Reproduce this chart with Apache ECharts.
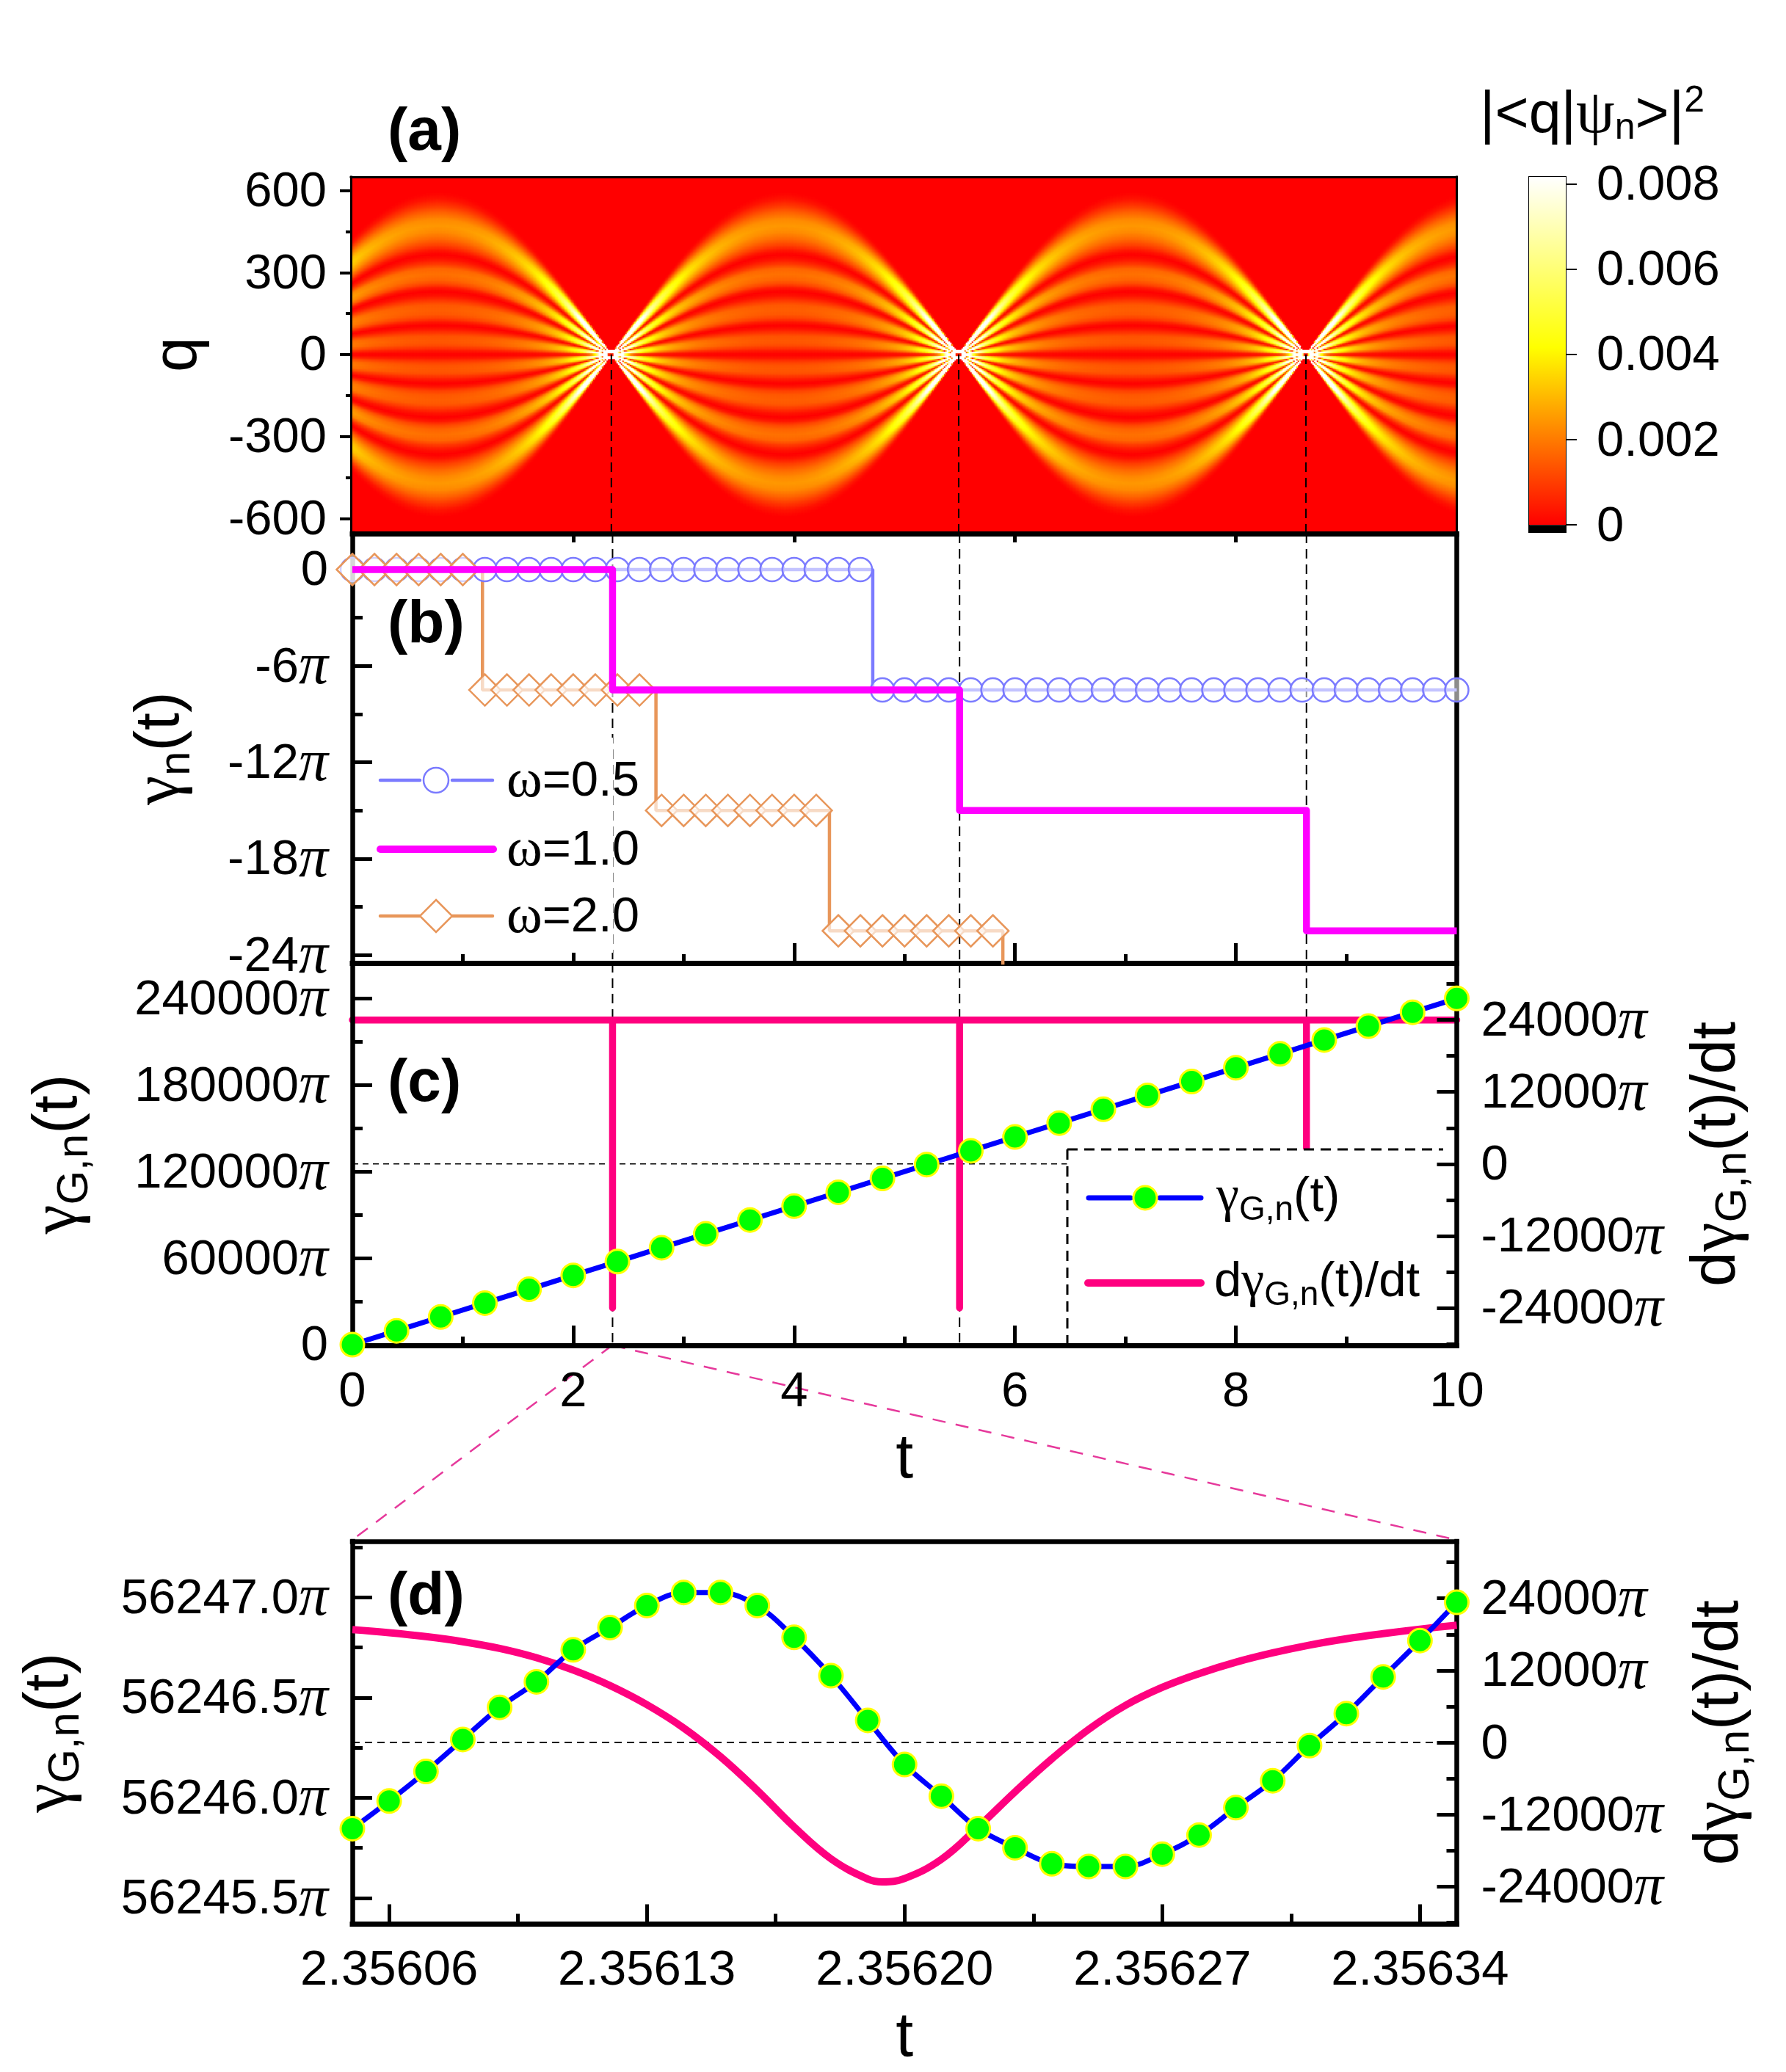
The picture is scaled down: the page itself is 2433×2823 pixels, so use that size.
<!DOCTYPE html>
<html><head><meta charset="utf-8">
<style>html,body{margin:0;padding:0;background:#fff}#c{width:2433px;height:2823px}</style>
<script src="https://cdn.jsdelivr.net/npm/echarts@6/dist/echarts.min.js"></script>
</head><body><div id="c"></div>
<script>
// ---------- values ----------
// panel (a): antinode slice of the density and the breathing of the ridges
const ridgeNodes=[-0.785,2.356,5.498,8.639,11.781];
const widthDist=[0,.1,.2,.3,.4,.5,.6,.7,.8,.9,1,1.1,1.2,1.3,1.4,1.5,1.5708];
const widthScale=[0,.1,.2,.296,.39,.48,.565,.645,.717,.783,.841,.891,.932,.964,.985,.997,1];
const sliceQ=[0,12,25,38,52,68,82,95,107,120,132,148,165,182,198,215,231,245,258,275,295,315,332,350,366,380,400,425,450,472,495,520,545,570,590,605];
const sliceD=[0,.0003,.0009,.0013,.0014,.0013,.0008,.0003,0,.0004,.001,.0014,.0015,.0014,.0009,.0003,0,.0004,.0011,.0016,.0018,.0016,.0009,.0003,0,.0003,.001,.0017,.0022,.0024,.0022,.0016,.0009,.0003,.00005,0];
const qTicks=[600,300,0,-300,-600], qMinor=[450,150,-150,-450];
const qLabels=['600','300','0','-300','-600'];
const barTicks=[0,.002,.004,.006,.008], barLabels=['0','0.002','0.004','0.006','0.008'];
// panel (b)
const bTicks=[0,-6,-12,-18,-24], bMinor=[-3,-9,-15,-21];
const bLabels=['0','-6π','-12π','-18π','-24π'];
const w05T=[0,4.712,4.712,10], w05V=[0,0,-7.5,-7.5];
const w05MarkT=[0,.2,.4,.6,.8,1,1.2,1.4,1.6,1.8,2,2.2,2.4,2.6,2.8,3,3.2,3.4,3.6,3.8,4,4.2,4.4,4.6,4.8,5,5.2,5.4,5.6,5.8,6,6.2,6.4,6.6,6.8,7,7.2,7.4,7.6,7.8,8,8.2,8.4,8.6,8.8,9,9.2,9.4,9.6,9.8,10];
const w05MarkV=[0,0,0,0,0,0,0,0,0,0,0,0,0,0,0,0,0,0,0,0,0,0,0,0,-7.5,-7.5,-7.5,-7.5,-7.5,-7.5,-7.5,-7.5,-7.5,-7.5,-7.5,-7.5,-7.5,-7.5,-7.5,-7.5,-7.5,-7.5,-7.5,-7.5,-7.5,-7.5,-7.5,-7.5,-7.5,-7.5,-7.5];
const w10T=[0,2.356,2.356,5.498,5.498,8.639,8.639,10], w10V=[0,0,-7.5,-7.5,-15,-15,-22.5,-22.5];
const w20T=[0,1.178,1.178,2.749,2.749,4.32,4.32,5.89,5.89], w20V=[0,0,-7.5,-7.5,-15,-15,-22.5,-22.5,-30];
const w20MarkT=[0,.2,.4,.6,.8,1,1.2,1.4,1.6,1.8,2,2.2,2.4,2.6,2.8,3,3.2,3.4,3.6,3.8,4,4.2,4.4,4.6,4.8,5,5.2,5.4,5.6,5.8];
const w20MarkV=[0,0,0,0,0,0,-7.5,-7.5,-7.5,-7.5,-7.5,-7.5,-7.5,-7.5,-15,-15,-15,-15,-15,-15,-15,-15,-22.5,-22.5,-22.5,-22.5,-22.5,-22.5,-22.5,-22.5];
// panel (c)
const cT=[0,.4,.8,1.2,1.6,2,2.4,2.8,3.2,3.6,4,4.4,4.8,5.2,5.6,6,6.4,6.8,7.2,7.6,8,8.4,8.8,9.2,9.6,10];
const cGamma=[0,9600,19200,28800,38400,48000,57600,67200,76800,86400,96000,105600,115200,124800,134400,144000,153600,163200,172800,182400,192000,201600,211200,220800,230400,240000];
const cRateT=[0,2.356,2.356,2.356,5.498,5.498,5.498,8.639,8.639,8.639,10];
const cRateV=[24000,24000,-24000,24000,24000,-24000,24000,24000,-24000,24000,24000];
const tTicks=[0,2,4,6,8,10], tMinor=[1,3,5,7,9], tLabels=['0','2','4','6','8','10'];
const cLeftTicks=[0,60000,120000,180000,240000], cLeftMinor=[30000,90000,150000,210000];
const cLeftLabels=['0','60000π','120000π','180000π','240000π'];
const rateTicks=[24000,12000,0,-12000,-24000], rateMinor=[30000,18000,6000,-6000,-18000,-30000];
const rateLabels=['24000π','12000π','0','-12000π','-24000π'];
// panel (d)
const dT=[2.35605,2.35606,2.35607,2.35608,2.35609,2.3561,2.35611,2.35612,2.35613,2.35614,2.35615,2.35616,2.35617,2.35618,2.35619,2.3562,2.35621,2.35622,2.35623,2.35624,2.35625,2.35626,2.35627,2.35628,2.35629,2.3563,2.35631,2.35632,2.35633,2.35634,2.35635];
const dGamma=[56245.846,56245.984,56246.131,56246.291,56246.451,56246.578,56246.738,56246.849,56246.959,56247.024,56247.024,56246.959,56246.80,56246.609,56246.386,56246.166,56246.008,56245.846,56245.751,56245.671,56245.657,56245.657,56245.719,56245.814,56245.951,56246.085,56246.26,56246.42,56246.603,56246.784,56246.975];
const dRateT=[2.35605,2.35606,2.35607,2.35608,2.35609,2.3561,2.35611,2.35612,2.35613,2.35614,2.35615,2.35616,2.35617,2.35618,2.35619,2.356194,2.3562,2.35621,2.35622,2.35623,2.35624,2.35625,2.35626,2.35627,2.35628,2.35629,2.3563,2.35631,2.35632,2.35633,2.35634,2.35635];
const dRate=[18802,18287,17631,16788,15664,14119,12058,9483,6298,2411,-2366,-7985,-14073,-19365,-22737,-23205,-22643,-19458,-14073,-8220,-2720,2180,6180,9180,11480,13380,14930,16230,17280,18130,18880,19530];
const dTicks=[2.35606,2.35613,2.3562,2.35627,2.35634], dMinorX=[2.356095,2.356165,2.356235,2.356305];
const dXLabels=['2.35606','2.35613','2.35620','2.35627','2.35634'];
const dLeftTicks=[56245.5,56246,56246.5,56247], dLeftMinor=[56245.75,56246.25,56246.75,56247.25];
const dLeftLabels=['56245.5π','56246.0π','56246.5π','56247.0π'];

// ---------- layout ----------
const SANS='"Liberation Sans"', SERIF='"Liberation Serif"';
const L=480,R=1984.5,WIDTH=R-L;
const G=[{top:241,bottom:725},{top:727,bottom:1312},{top:1312,bottom:1833},{top:2100,bottom:2621.5}];
const grids=G.map(g=>({left:L,width:WIDTH,top:g.top,height:g.bottom-g.top,containLabel:false,show:false}));
grids[0].show=true;grids[0].backgroundColor='#ff0000';grids[0].borderWidth=0;grids[0].left=478;grids[0].width=1506;
grids.push({left:2083,width:50,top:241,height:484,show:false});

const xA=[],yA=[];
const LAB=67;
const labelRich={p:{fontFamily:SERIF,fontStyle:'italic',fontSize:80,color:'#000'}};
function addAxis(list,o){
  const a={type:'value',gridIndex:o.grid,position:o.pos,min:o.min,max:o.max,z:o.z==null?1:o.z,
    splitLine:{show:false},
    axisLine:{show:o.line>0,onZero:false,lineStyle:{width:o.line||1,color:'#000',cap:'square'}},
    axisTick:{show:!!(o.ticks&&o.ticks.length),inside:o.inside!==false,length:o.len||27,customValues:o.ticks||[],lineStyle:{width:o.tw||5,color:'#000'}},
    axisLabel:{show:false}};
  if(o.labels){
    a.axisLabel={show:true,customValues:o.ticks,margin:o.margin==null?33:o.margin,fontFamily:SANS,fontSize:LAB,color:'#000',rich:labelRich,hideOverlap:false,showMinLabel:true,showMaxLabel:true,
      padding:list===yA?[6,0,0,0]:0,
      formatter:v=>{let b=0;o.ticks.forEach((t,i)=>{if(Math.abs(t-v)<Math.abs(o.ticks[b]-v))b=i});return o.labels[b].replace('π','{p|π}')}};
  }
  if(o.name){a.name=o.name;a.nameLocation='middle';a.nameGap=o.gap;a.nameRotate=o.rot;a.nameMoveOverlap=false;
    a.nameTextStyle={fontFamily:SANS,fontSize:86,color:'#000',rich:{g:{fontFamily:SERIF,fontSize:90},s:{fontFamily:SANS,fontSize:60,padding:[44,0,0,0]},m:{fontFamily:SANS,fontSize:86}}};}
  list.push(a);
  const idx=list.length-1;
  if(o.minor){list.push({type:'value',gridIndex:o.grid,position:o.pos,min:o.min,max:o.max,z:o.z==null?1:o.z,splitLine:{show:false},axisLine:{show:false,onZero:false},
    axisTick:{show:true,inside:o.inside!==false,length:o.mlen||14,customValues:o.minor,lineStyle:{width:o.tw||5,color:'#000'}},axisLabel:{show:false}});}
  return idx;
}
const B=[-24.5,2.24],CL=[-500,264600],RT=[-30245,33500],DX=[2.35605,2.35635],DL=[56245.37,56247.279];

// panel a
const colT=[],rowQ=[];
for(let i=0;i<753;i++)colT.push((i+.5)/753*10);
for(let j=0;j<242;j++)rowQ.push(-650+(j+.5)/242*1300);
xA.push({type:'category',gridIndex:0,data:colT,show:false,boundaryGap:true});
yA.push({type:'category',gridIndex:0,data:rowQ,show:false,boundaryGap:true});
const ax=addAxis(xA,{grid:0,pos:'bottom',min:0,max:10,line:0});
addAxis(xA,{grid:0,pos:'top',min:0,max:10,line:3});
const ay=addAxis(yA,{grid:0,pos:'left',min:-650,max:650,line:3,ticks:qTicks,minor:qMinor,labels:qLabels,inside:false,len:15,mlen:7,tw:4,
  name:'q',gap:192,rot:90});
addAxis(yA,{grid:0,pos:'right',min:-650,max:650,line:3});
// panel b
const bx=addAxis(xA,{grid:1,pos:'bottom',min:0,max:10,line:7,ticks:tTicks,minor:tMinor,len:27,mlen:12});
addAxis(xA,{grid:1,pos:'top',min:0,max:10,line:7,ticks:tTicks,minor:tMinor,len:12,mlen:4});
const by=addAxis(yA,{grid:1,pos:'left',min:B[0],max:B[1],line:6.5,ticks:bTicks,minor:bMinor,labels:bLabels,
  name:'{g|γ}{s|n}{m|(t)}',gap:209,rot:90});
addAxis(yA,{grid:1,pos:'right',min:B[0],max:B[1],line:6.5});
// panel c
const cx=addAxis(xA,{grid:2,pos:'bottom',min:0,max:10,line:7,ticks:tTicks,minor:tMinor,labels:tLabels,margin:31,z:5,len:27,mlen:12,
  name:'t',gap:113});
addAxis(xA,{grid:2,pos:'top',min:0,max:10,line:0});
const cy=addAxis(yA,{grid:2,pos:'left',min:CL[0],max:CL[1],line:6.5,ticks:cLeftTicks,minor:cLeftMinor,labels:cLeftLabels,z:5,
  name:'{g|γ}{s|G,n}{m|(t)}',gap:348,rot:90});
const cr=addAxis(yA,{grid:2,pos:'right',min:RT[0],max:RT[1],line:6.5,ticks:rateTicks,minor:rateMinor,labels:rateLabels,z:5,
  name:'{m|d}{g|γ}{s|G,n}{m|(t)/dt}',gap:303,rot:90});
// panel d
const dx=addAxis(xA,{grid:3,pos:'bottom',min:DX[0],max:DX[1],line:7,ticks:dTicks,minor:dMinorX,labels:dXLabels,margin:31,len:27,mlen:14,
  name:'t',gap:113});
addAxis(xA,{grid:3,pos:'top',min:DX[0],max:DX[1],line:6.5});
const dy=addAxis(yA,{grid:3,pos:'left',min:DL[0],max:DL[1],line:6.5,ticks:dLeftTicks,minor:dLeftMinor,labels:dLeftLabels,
  name:'{g|γ}{s|G,n}{m|(t)}',gap:360,rot:90});
const dr=addAxis(yA,{grid:3,pos:'right',min:RT[0],max:RT[1],line:6.5,ticks:rateTicks,minor:rateMinor,labels:rateLabels,
  name:'{m|d}{g|γ}{s|G,n}{m|(t)/dt}',gap:307,rot:90});
// colour bar
const barX=xA.length;
xA.push({type:'category',gridIndex:4,data:[''],position:'bottom',axisLine:{show:true,onZero:false,lineStyle:{width:2,color:'#000'}},axisTick:{show:false},axisLabel:{show:false}});
xA.push({type:'category',gridIndex:4,data:[''],position:'top',axisLine:{show:true,onZero:false,lineStyle:{width:2,color:'#000'}},axisTick:{show:false},axisLabel:{show:false}});
const barYR=[-0.00017,0.00817];
const barY=addAxis(yA,{grid:4,pos:'right',min:barYR[0],max:barYR[1],line:2,ticks:barTicks,labels:barLabels,inside:false,len:15,tw:2,margin:42});
addAxis(yA,{grid:4,pos:'left',min:barYR[0],max:barYR[1],line:2});

// density table for the image plot, from the read slice and the read ridge scale
function look(xs,ys,x){
  if(x<=xs[0])return ys[0];
  for(let i=1;i<xs.length;i++)if(x<=xs[i]){const f=(x-xs[i-1])/(xs[i]-xs[i-1]);return ys[i-1]+f*(ys[i]-ys[i-1]);}
  return ys[ys.length-1];
}
const cells=[];
colT.forEach((t,i)=>{
  let d=1e9;ridgeNodes.forEach(n=>{d=Math.min(d,Math.abs(t-n))});
  const s=Math.max(look(widthDist,widthScale,d),.025);
  rowQ.forEach((q,j)=>{
    const v=look(sliceQ,sliceD,Math.abs(q)/s)/s;
    if(v>.00004)cells.push([i,j,Math.min(v,.0081)]);
  });
});

function pts(a,b){return a.map((x,i)=>[x,b[i]]);}
const nodeLine=t=>[[t,0],[t,-650]];
function dash(xi,yi,data,w,arr,z){return {type:'line',silent:true,xAxisIndex:xi,yAxisIndex:yi,data,symbol:'none',z:z||1,lineStyle:{color:'#000',width:w,type:arr}};}
const NODE=[2.356,5.498,8.639];
const series=[
 {type:'heatmap',name:'density',xAxisIndex:0,yAxisIndex:0,data:cells,progressive:0,silent:true,itemStyle:{borderWidth:0},z:1}
];
NODE.forEach(t=>{
  series.push(dash(ax,ay,nodeLine(t),2,[13,8],3));
  series.push(dash(bx,by,[[t,B[1]],[t,B[0]]],2,[13,8],1));
  series.push(dash(cx,cy,[[t,CL[1]],[t,CL[0]]],2,[13,8],1));
});
// panel b
series.push({type:'line',name:'ω=0.5',silent:true,xAxisIndex:bx,yAxisIndex:by,data:pts(w05T,w05V),symbol:'none',z:2,lineStyle:{color:'#7b7bff',width:4.5}});
series.push({type:'scatter',name:'ω=0.5 marks',silent:true,clip:false,xAxisIndex:bx,yAxisIndex:by,data:pts(w05MarkT,w05MarkV),symbol:'circle',symbolSize:32,z:2,itemStyle:{opacity:1,color:'rgba(255,255,255,0.55)',borderColor:'#7b7bff',borderWidth:2.5}});
series.push({type:'line',name:'ω=2.0',silent:true,xAxisIndex:bx,yAxisIndex:by,data:pts(w20T,w20V),symbol:'none',z:2,lineStyle:{color:'#e8965a',width:4.5}});
series.push({type:'scatter',name:'ω=2.0 marks',silent:true,clip:false,xAxisIndex:bx,yAxisIndex:by,data:pts(w20MarkT,w20MarkV),symbol:'diamond',symbolSize:43,z:2,itemStyle:{opacity:1,color:'rgba(255,255,255,0.65)',borderColor:'#e8965a',borderWidth:2.5}});
series.push({type:'line',name:'ω=1.0',silent:true,xAxisIndex:bx,yAxisIndex:by,data:pts(w10T,w10V),symbol:'none',z:2.5,lineStyle:{color:'#ff00ff',width:9.5,join:'round'}});
// panel c
series.push(dash(cx,cr,[[0,0],[6.47,0]],1.5,[8,6],1));
series.push({type:'line',name:'rate c',silent:true,xAxisIndex:cx,yAxisIndex:cr,data:pts(cRateT,cRateV),symbol:'none',z:2,lineStyle:{color:'#ff007f',width:9.5,cap:'round',join:'round'}});
const greenDot={color:'#00ff00',borderColor:'#ffff00',borderWidth:3,opacity:1};
series.push({type:'line',name:'gamma c',silent:true,clip:false,xAxisIndex:cx,yAxisIndex:cy,data:pts(cT,cGamma),symbol:'circle',symbolSize:32,showSymbol:true,showAllSymbol:true,z:6,itemStyle:greenDot,lineStyle:{color:'#0000ff',width:7}});
// panel d
series.push(dash(dx,dr,[[DX[0],0],[DX[1],0]],2,[10,7],1));
series.push({type:'line',name:'rate d',silent:true,xAxisIndex:dx,yAxisIndex:dr,data:pts(dRateT,dRate),symbol:'none',smooth:.4,z:2,lineStyle:{color:'#ff007f',width:10}});
series.push({type:'line',name:'gamma d',silent:true,clip:false,xAxisIndex:dx,yAxisIndex:dy,data:pts(dT,dGamma),smooth:.35,symbol:'circle',symbolSize:32,showSymbol:true,showAllSymbol:true,z:6,itemStyle:greenDot,lineStyle:{color:'#0000ff',width:7}});
// colour bar
series.push({type:'bar',silent:true,xAxisIndex:barX,yAxisIndex:barY,barWidth:'100%',barGap:'-100%',data:[barYR[1]],
  itemStyle:{color:new echarts.graphic.LinearGradient(0,1,0,0,[{offset:0,color:'#ff0000'},{offset:.51,color:'#ffff00'},{offset:1,color:'#ffffff'}])}});
series.push({type:'bar',silent:true,xAxisIndex:barX,yAxisIndex:barY,barWidth:'100%',barGap:'-100%',data:[barYR[0]],itemStyle:{color:'#000'}});

// ---------- text, legends, connectors ----------
const mainRich={g:{fontFamily:SERIF,fontSize:70,fill:'#000'},s:{fontFamily:SANS,fontSize:46,fill:'#000',padding:[34,0,0,0]},m:{fontFamily:SANS,fontSize:67,fill:'#000'},w:{fontFamily:SERIF,fontSize:74,fill:'#000'}};
function text(x,y,t,z){return {type:'text',z:z||10,style:{x,y,text:t,fontFamily:SANS,fontSize:67,fill:'#000',rich:mainRich,verticalAlign:'middle',align:'left'}};}
function seg(x1,y1,x2,y2,color,w,extra){return {type:'line',z:(extra&&extra.z)||4,shape:{x1,y1,x2,y2},style:Object.assign({stroke:color,lineWidth:w,lineCap:'round'},extra&&extra.style)};}
const graphic=[
 {type:'text',z:10,style:{x:528,y:181,text:'(a)',font:'bold 82px "Liberation Sans"',fill:'#000',verticalAlign:'middle'}},
 {type:'text',z:10,style:{x:528,y:852,text:'(b)',font:'bold 82px "Liberation Sans"',fill:'#000',verticalAlign:'middle'}},
 {type:'text',z:10,style:{x:528,y:1477,text:'(c)',font:'bold 82px "Liberation Sans"',fill:'#000',verticalAlign:'middle'}},
 {type:'text',z:10,style:{x:528,y:2176,text:'(d)',font:'bold 82px "Liberation Sans"',fill:'#000',verticalAlign:'middle'}},
 // colour bar title
 {type:'text',z:10,style:{x:2016,y:158,text:'{m||<q|}{g|ψ}{s|n}{m|>|}{u|2}',fontSize:67,rich:{m:{fontFamily:SANS,fontSize:79,fill:'#000'},g:{fontFamily:SERIF,fontSize:84,fill:'#000'},s:{fontFamily:SANS,fontSize:50,fill:'#000',padding:[34,0,0,0]},u:{fontFamily:SANS,fontSize:50,fill:'#000',padding:[0,0,40,0]}},verticalAlign:'middle'}},
 // legend (b)
 {type:'rect',z:3,shape:{x:508,y:1005,width:327,height:293},style:{fill:'#fff'}},
 seg(518,1063,572,1063,'#7b7bff',4.5),seg(616,1063,671,1063,'#7b7bff',4.5),
 {type:'circle',z:4,shape:{cx:594,cy:1063,r:17},style:{fill:'#fff',stroke:'#7b7bff',lineWidth:2.5}},
 text(690,1066,'{w|ω}=0.5'),
 seg(518,1157,672,1157,'#ff00ff',10),
 text(690,1160,'{w|ω}=1.0'),
 seg(518,1248,572,1248,'#e8965a',4.5),seg(616,1248,671,1248,'#e8965a',4.5),
 {type:'polygon',z:4,shape:{points:[[594,1226],[616,1248],[594,1270],[572,1248]]},style:{fill:'#fff',stroke:'#e8965a',lineWidth:2.5}},
 text(690,1251,'{w|ω}=2.0'),
 // legend (c)
 {type:'rect',z:3,shape:{x:1454,y:1566,width:527,height:264},style:{fill:'#fff'}},
 seg(1454,1566,1966,1566,'#000',3,{style:{lineDash:[14,9],lineCap:'butt'}}),
 seg(1454,1566,1454,1830,'#000',3,{style:{lineDash:[14,9],lineCap:'butt'}}),
 seg(1483,1632,1540,1632,'#0000ff',7),seg(1580,1632,1636,1632,'#0000ff',7),
 {type:'circle',z:4,shape:{cx:1560,cy:1632,r:16},style:{fill:'#00ff00',stroke:'#ffff00',lineWidth:3}},
 text(1657,1632,'{g|γ}{s|G,n}{m|(t)}'),
 seg(1482,1748,1636,1748,'#ff007f',10),
 text(1654,1748,'{m|d}{g|γ}{s|G,n}{m|(t)/dt}'),
 // zoom connectors
 seg(834,1833,480,2098,'#e6399b',2.5,{z:1,style:{lineDash:[18,14],lineCap:'butt'}}),
 seg(834,1833,1984,2098,'#e6399b',2.5,{z:1,style:{lineDash:[18,14],lineCap:'butt'}})
];

const chart=echarts.init(document.getElementById('c'),null,{renderer:'canvas'});
chart.setOption({animation:false,backgroundColor:'#fff',grid:grids,xAxis:xA,yAxis:yA,series,graphic:{elements:graphic},
  visualMap:{show:false,type:'continuous',seriesIndex:0,dimension:2,min:0,max:.0081,inRange:{color:['#ff0000','#ffff00','#ffffff']}}});
</script></body></html>
